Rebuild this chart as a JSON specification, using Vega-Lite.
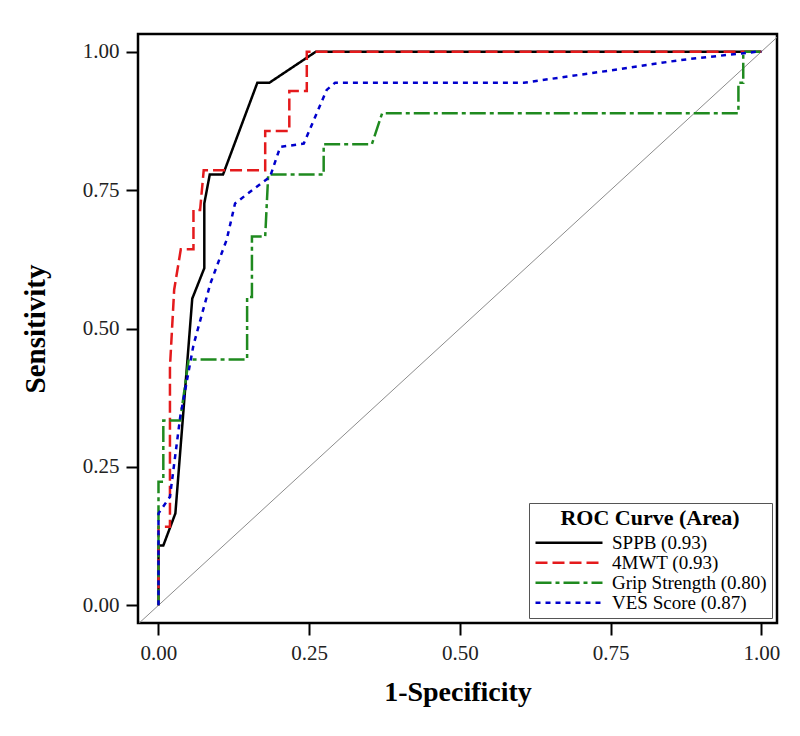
{
  "$schema": "https://vega.github.io/schema/vega-lite/v6.json",
  "width": 639,
  "height": 589,
  "autosize": {"type": "none"},
  "padding": {"left": 138, "top": 34, "right": 23, "bottom": 113},
  "background": "white",
  "config": {
    "font": "Liberation Serif",
    "view": {"stroke": "black", "strokeWidth": 2.5},
    "axis": {
      "grid": false,
      "domain": false,
      "tickColor": "black",
      "tickWidth": 2,
      "tickSize": 12,
      "labelFont": "Liberation Serif",
      "labelFontSize": 21,
      "labelColor": "#222",
      "titleFont": "Liberation Serif",
      "titleFontWeight": "bold",
      "titleColor": "black"
    },
    "legend": {
      "labelFont": "Liberation Serif",
      "titleFont": "Liberation Serif"
    }
  },
  "datasets": {
    "diag": [
      {"x": -0.05, "y": -0.05},
      {"x": 1.05, "y": 1.05}
    ],
    "roc": [
      {"curve": "SPPB (0.93)", "fpr": 0, "tpr": 0},
      {"curve": "SPPB (0.93)", "fpr": 0, "tpr": 0.108},
      {"curve": "SPPB (0.93)", "fpr": 0.008, "tpr": 0.108},
      {"curve": "SPPB (0.93)", "fpr": 0.028, "tpr": 0.166},
      {"curve": "SPPB (0.93)", "fpr": 0.056, "tpr": 0.554},
      {"curve": "SPPB (0.93)", "fpr": 0.076, "tpr": 0.609},
      {"curve": "SPPB (0.93)", "fpr": 0.076, "tpr": 0.726},
      {"curve": "SPPB (0.93)", "fpr": 0.085, "tpr": 0.778},
      {"curve": "SPPB (0.93)", "fpr": 0.107, "tpr": 0.778},
      {"curve": "SPPB (0.93)", "fpr": 0.164, "tpr": 0.944},
      {"curve": "SPPB (0.93)", "fpr": 0.184, "tpr": 0.944},
      {"curve": "SPPB (0.93)", "fpr": 0.261, "tpr": 1},
      {"curve": "SPPB (0.93)", "fpr": 1, "tpr": 1},
      {"curve": "4MWT (0.93)", "fpr": 0, "tpr": 0},
      {"curve": "4MWT (0.93)", "fpr": 0, "tpr": 0.142},
      {"curve": "4MWT (0.93)", "fpr": 0.019, "tpr": 0.142},
      {"curve": "4MWT (0.93)", "fpr": 0.019, "tpr": 0.43},
      {"curve": "4MWT (0.93)", "fpr": 0.026, "tpr": 0.57},
      {"curve": "4MWT (0.93)", "fpr": 0.037, "tpr": 0.643},
      {"curve": "4MWT (0.93)", "fpr": 0.058, "tpr": 0.643},
      {"curve": "4MWT (0.93)", "fpr": 0.058, "tpr": 0.714},
      {"curve": "4MWT (0.93)", "fpr": 0.069, "tpr": 0.714},
      {"curve": "4MWT (0.93)", "fpr": 0.075, "tpr": 0.786},
      {"curve": "4MWT (0.93)", "fpr": 0.177, "tpr": 0.786},
      {"curve": "4MWT (0.93)", "fpr": 0.177, "tpr": 0.857},
      {"curve": "4MWT (0.93)", "fpr": 0.217, "tpr": 0.857},
      {"curve": "4MWT (0.93)", "fpr": 0.217, "tpr": 0.929},
      {"curve": "4MWT (0.93)", "fpr": 0.246, "tpr": 0.929},
      {"curve": "4MWT (0.93)", "fpr": 0.246, "tpr": 1},
      {"curve": "4MWT (0.93)", "fpr": 1, "tpr": 1},
      {"curve": "Grip Strength (0.80)", "fpr": 0, "tpr": 0},
      {"curve": "Grip Strength (0.80)", "fpr": 0, "tpr": 0.223},
      {"curve": "Grip Strength (0.80)", "fpr": 0.008, "tpr": 0.223},
      {"curve": "Grip Strength (0.80)", "fpr": 0.008, "tpr": 0.334},
      {"curve": "Grip Strength (0.80)", "fpr": 0.036, "tpr": 0.334},
      {"curve": "Grip Strength (0.80)", "fpr": 0.05, "tpr": 0.444},
      {"curve": "Grip Strength (0.80)", "fpr": 0.147, "tpr": 0.444},
      {"curve": "Grip Strength (0.80)", "fpr": 0.147, "tpr": 0.557},
      {"curve": "Grip Strength (0.80)", "fpr": 0.155, "tpr": 0.557},
      {"curve": "Grip Strength (0.80)", "fpr": 0.155, "tpr": 0.666},
      {"curve": "Grip Strength (0.80)", "fpr": 0.177, "tpr": 0.666},
      {"curve": "Grip Strength (0.80)", "fpr": 0.182, "tpr": 0.778},
      {"curve": "Grip Strength (0.80)", "fpr": 0.274, "tpr": 0.778},
      {"curve": "Grip Strength (0.80)", "fpr": 0.274, "tpr": 0.833},
      {"curve": "Grip Strength (0.80)", "fpr": 0.354, "tpr": 0.833},
      {"curve": "Grip Strength (0.80)", "fpr": 0.371, "tpr": 0.889},
      {"curve": "Grip Strength (0.80)", "fpr": 0.962, "tpr": 0.889},
      {"curve": "Grip Strength (0.80)", "fpr": 0.962, "tpr": 0.944},
      {"curve": "Grip Strength (0.80)", "fpr": 0.97, "tpr": 0.944},
      {"curve": "Grip Strength (0.80)", "fpr": 0.97, "tpr": 1},
      {"curve": "Grip Strength (0.80)", "fpr": 1, "tpr": 1},
      {"curve": "VES Score (0.87)", "fpr": 0, "tpr": 0},
      {"curve": "VES Score (0.87)", "fpr": 0, "tpr": 0.166},
      {"curve": "VES Score (0.87)", "fpr": 0.019, "tpr": 0.196},
      {"curve": "VES Score (0.87)", "fpr": 0.036, "tpr": 0.34},
      {"curve": "VES Score (0.87)", "fpr": 0.058, "tpr": 0.47},
      {"curve": "VES Score (0.87)", "fpr": 0.086, "tpr": 0.581},
      {"curve": "VES Score (0.87)", "fpr": 0.113, "tpr": 0.66},
      {"curve": "VES Score (0.87)", "fpr": 0.127, "tpr": 0.726},
      {"curve": "VES Score (0.87)", "fpr": 0.152, "tpr": 0.747},
      {"curve": "VES Score (0.87)", "fpr": 0.185, "tpr": 0.774},
      {"curve": "VES Score (0.87)", "fpr": 0.202, "tpr": 0.828},
      {"curve": "VES Score (0.87)", "fpr": 0.241, "tpr": 0.834},
      {"curve": "VES Score (0.87)", "fpr": 0.279, "tpr": 0.931},
      {"curve": "VES Score (0.87)", "fpr": 0.293, "tpr": 0.944},
      {"curve": "VES Score (0.87)", "fpr": 0.606, "tpr": 0.944},
      {"curve": "VES Score (0.87)", "fpr": 0.755, "tpr": 0.967},
      {"curve": "VES Score (0.87)", "fpr": 0.866, "tpr": 0.985},
      {"curve": "VES Score (0.87)", "fpr": 0.993, "tpr": 1},
      {"curve": "VES Score (0.87)", "fpr": 1, "tpr": 1}
    ]
  },
  "layer": [
    {
      "data": {"name": "diag"},
      "mark": {"type": "line", "color": "#8c8c8c", "strokeWidth": 1, "clip": true},
      "encoding": {
        "x": {"field": "x", "type": "quantitative", "scale": {"domain": [-0.034, 1.026], "nice": false, "zero": false}},
        "y": {"field": "y", "type": "quantitative", "scale": {"domain": [-0.032, 1.032], "nice": false, "zero": false}}
      }
    },
    {
      "data": {"name": "roc"},
      "mark": {"type": "line", "strokeWidth": 2.5, "clip": true},
      "encoding": {
        "x": {
          "field": "fpr", "type": "quantitative",
          "scale": {"domain": [-0.034, 1.026], "nice": false, "zero": false},
          "axis": {"values": [0, 0.25, 0.5, 0.75, 1], "format": ".2f", "title": "1-Specificity", "titleFontSize": 28, "labelPadding": 7, "titlePadding": 15},
          "title": "1-Specificity"
        },
        "y": {
          "field": "tpr", "type": "quantitative",
          "scale": {"domain": [-0.032, 1.032], "nice": false, "zero": false},
          "axis": {"values": [0, 0.25, 0.5, 0.75, 1], "format": ".2f", "title": "Sensitivity", "titleFontSize": 29, "labelPadding": 7, "titlePadding": 32},
          "title": "Sensitivity"
        },
        "order": {"value": null},
        "color": {
          "field": "curve", "type": "nominal",
          "scale": {
            "domain": ["SPPB (0.93)", "4MWT (0.93)", "Grip Strength (0.80)", "VES Score (0.87)"],
            "range": ["#000000", "#e41a1c", "#1f8a1f", "#0000cc"]
          },
          "legend": {
            "title": "ROC Curve (Area)",
            "orient": "bottom-right",
            "offset": 5,
            "strokeColor": "#555",
            "padding": 5,
            "titleFontSize": 22,
            "titleFontWeight": "bold",
            "titleColor": "black",
            "titleAnchor": "middle",
            "titleLimit": 400,
            "titlePadding": 5,
            "labelFontSize": 19,
            "labelLimit": 400,
            "labelColor": "black",
            "symbolType": "stroke",
            "symbolSize": 4489,
            "symbolStrokeWidth": 2.5,
            "clipHeight": 15.5,
            "rowPadding": 0,
            "labelOffset": 8
          },
          "title": "ROC Curve (Area)"
        },
        "strokeDash": {
          "field": "curve", "type": "nominal",
          "scale": {
            "domain": ["SPPB (0.93)", "4MWT (0.93)", "Grip Strength (0.80)", "VES Score (0.87)"],
            "range": [[1, 0], [12, 5], [16, 4, 4, 4], [5, 5]]
          },
          "title": "ROC Curve (Area)"
        }
      }
    }
  ]
}
